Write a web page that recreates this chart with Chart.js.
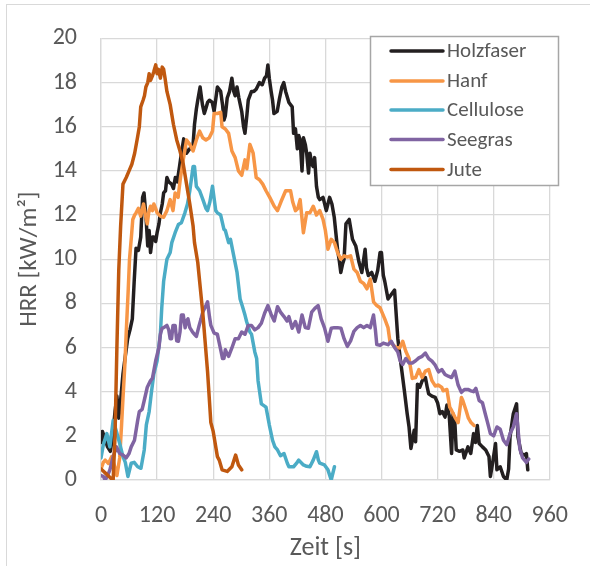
<!DOCTYPE html>
<html>
<head>
<meta charset="utf-8">
<script src="https://cdn.jsdelivr.net/npm/chart.js@4/dist/chart.umd.min.js"></script>
<style>
  html, body { margin: 0; padding: 0; background: #fff; }
  #wrap { position: relative; width: 590px; height: 566px; overflow: hidden; }
  #frame { position: absolute; left: 6px; top: 4px; width: 640px; height: 640px; border: 1px solid #d9d9d9; }
  canvas { position: absolute; left: 0; top: 0; }
</style>
</head>
<body>
<div id="wrap"><div id="frame"></div><canvas id="c" width="590" height="566"></canvas></div>
<script>
// ---- Data (time [s], HRR [kW/m²]) ----
const seriesLabels = ["Holzfaser", "Hanf", "Cellulose", "Seegras", "Jute"];
const seriesColors = ["#231F20", "#F79646", "#4BACC6", "#8064A2", "#C0580F"];
const xTicks = [0, 120, 240, 360, 480, 600, 720, 840, 960];
const yTicks = [0, 2, 4, 6, 8, 10, 12, 14, 16, 18, 20];

const holzfaser = [[0,1.7],[3,2.2],[8,1.9],[14,1.5],[20,1.3],[25,2.0],[30,3.1],[34,3.8],[38,2.8],[42,3.6],[47,4.8],[52,5.6],[57,6.4],[62,6.8],[67,7.3],[71,9.0],[75,10.5],[80,10.4],[85,11.0],[89,12.8],[92,13.0],[96,12.0],[100,10.6],[103,11.3],[106,10.3],[110,11.0],[113,11.0],[117,10.8],[120,11.2],[124,11.6],[127,12.1],[131,12.5],[134,13.0],[138,13.1],[141,13.7],[145,13.5],[151,13.4],[155,13.2],[159,13.7],[163,13.5],[168,14.2],[172,14.8],[177,15.45],[183,14.8],[190,15.0],[197,15.2],[200,16.1],[204,16.8],[207,17.2],[212,17.8],[217,17.0],[221,16.6],[224,16.8],[228,17.1],[232,17.2],[238,17.1],[242,16.7],[249,17.8],[256,17.6],[260,17.0],[263,16.3],[266,16.5],[270,17.3],[275,17.6],[280,18.2],[284,17.6],[287,17.4],[291,17.8],[295,17.3],[301,16.7],[305,16.0],[308,15.7],[312,16.5],[315,17.2],[322,17.6],[327,17.6],[332,17.7],[339,18.0],[345,17.9],[350,18.2],[354,18.3],[357,18.8],[360,18.2],[364,17.6],[367,17.2],[370,16.6],[377,16.7],[382,17.3],[387,17.8],[391,18.0],[395,17.6],[402,17.1],[409,16.9],[412,15.7],[416,15.9],[420,15.0],[423,15.6],[426,15.4],[430,14.0],[433,15.5],[437,15.2],[440,14.8],[444,13.9],[447,14.8],[451,14.3],[454,14.2],[457,14.6],[461,13.3],[465,12.8],[468,12.7],[475,12.8],[482,12.2],[489,12.8],[494,12.5],[499,11.9],[506,10.45],[510,9.9],[513,9.4],[517,9.8],[520,10.0],[524,11.6],[531,11.8],[538,10.9],[545,10.6],[552,9.86],[558,9.4],[565,10.45],[568,9.6],[572,9.26],[579,9.4],[586,9.0],[592,9.5],[597,10.3],[600,10.3],[604,9.26],[607,9.0],[614,8.2],[621,8.4],[628,8.6],[635,6.4],[642,5.2],[649,4.04],[655,3.0],[659,2.4],[663,1.43],[667,1.9],[670,2.25],[673,1.73],[677,4.34],[682,4.2],[687,4.49],[694,4.64],[698,4.19],[701,3.9],[708,3.8],[715,3.74],[720,3.5],[725,3.0],[730,3.1],[736,2.85],[740,3.4],[745,2.9],[750,1.2],[753,3.0],[757,2.6],[760,1.36],[767,1.3],[774,1.36],[777,1.0],[785,1.5],[791,1.2],[797,2.1],[801,1.7],[805,2.47],[809,1.65],[816,1.5],[823,1.36],[830,1.06],[833,0.16],[838,0.8],[844,1.65],[847,0.46],[854,0.6],[861,0.16],[868,0],[872,0.5],[875,1.95],[882,3.0],[889,3.45],[892,1.95],[899,1.2],[906,1.13],[910,1.2],[913,0.46]];

const hanf = [[0,0.5],[5,0.8],[9,0.9],[16,0.75],[23,1.06],[28,0.7],[34,0.2],[40,1.0],[44,2.5],[47,3.7],[51,5.2],[54,6.7],[58,8.5],[61,10.0],[65,11.0],[68,11.8],[72,12.0],[75,12.1],[80,12.3],[85,11.95],[91,12.5],[95,12.0],[99,11.6],[102,12.1],[106,12.4],[110,12.2],[113,12.5],[117,12.3],[120,12.1],[127,11.95],[134,11.9],[141,12.2],[148,12.7],[154,12.2],[158.6,13.0],[165,12.8],[170,13.7],[176,14.5],[183,15.4],[190,15.2],[197,14.9],[204,15.4],[211,15.8],[217.6,15.5],[224.5,15.4],[231.6,15.5],[238.5,15.8],[242,16.6],[249,16.6],[256,16.65],[259,16.0],[266,15.9],[273,15.7],[280,14.9],[287,14.6],[294,14.0],[301,13.8],[308,14.5],[312,14.1],[318.5,15.2],[325.5,14.8],[332,13.7],[339,13.6],[346,13.4],[353,13.1],[361,12.8],[370.6,12.4],[377.6,12.2],[385,12.6],[395,13.1],[405.5,13.1],[410,12.6],[416,12.2],[421,12.3],[426,12.7],[433,11.2],[440,12.1],[447,12.1],[454,12.4],[461,12.0],[468,12.2],[475,11.8],[480,11.3],[485.5,10.45],[492.5,10.9],[499.4,10.75],[506,10.3],[513,10.0],[520,10.15],[527,10.1],[534,10.15],[541,9.55],[548,9.4],[555,9.0],[562,8.9],[569,8.66],[576,9.1],[583,8.07],[590,7.9],[597,7.8],[607,7.3],[614,6.9],[618,6.3],[625,6.1],[632,6.0],[639,5.98],[645.5,6.28],[652,5.83],[659,5.5],[666,4.6],[673,4.64],[680,5.0],[687,4.64],[694,4.93],[701,5.0],[708,4.5],[715,4.26],[722,4.3],[729,4.19],[732,4.04],[740,4.1],[746,3.3],[750,3.15],[757,2.85],[764,2.6],[771,3.74],[774,3.6],[781,3.15],[786,2.8],[791.5,2.6],[798,2.47]];

const cellulose = [[0,1.0],[5,1.6],[12.5,2.1],[19,1.5],[26,2.7],[33,2.2],[40,1.65],[47,1.06],[52,0.8],[57.6,0.16],[64.6,0.76],[71,0.8],[78.5,0.6],[85.5,0.53],[92.5,1.36],[97,2.5],[103,3.1],[108,4.0],[113,4.8],[120,5.4],[127,6.6],[130,7.8],[134,9.0],[141,10.0],[148,10.3],[151.5,10.75],[158.6,11.2],[165.5,11.57],[172,11.65],[179.5,12.1],[185,12.5],[190,13.1],[197,14.2],[200,14.2],[204,13.3],[211,13.1],[218,12.7],[224.5,12.3],[228,12.2],[233,12.6],[238.5,13.3],[245.5,12.2],[249,12.1],[256,12.0],[263,11.35],[266,11.3],[273,10.75],[277,10.9],[284,10.15],[291,9.4],[297.6,8.2],[302,7.9],[308,7.47],[311.5,7.18],[318.5,6.7],[322,6.6],[329,5.8],[333,5.5],[336,4.5],[343,3.45],[353,3.3],[360,2.5],[367,1.8],[372,1.5],[377.6,1.36],[384,1.1],[391.5,1.2],[398.6,0.76],[402,0.6],[412,0.6],[418,0.75],[423,0.9],[433,0.68],[440,0.62],[447,0.6],[454,0.9],[461,1.28],[465,0.9],[468,0.76],[478,0.68],[485.5,0.46],[492.5,0],[499.4,0.6]];

const seegras = [[0,0.2],[5,0.16],[9,0],[14,0.2],[19,0.46],[26,1.06],[33,1.5],[40,1.2],[47,1.13],[54,1.0],[60,1.2],[64.6,1.5],[71.6,1.8],[78.5,2.7],[82,3.1],[88,3.2],[92.5,3.6],[99,4.2],[106,4.5],[110,4.6],[117,5.4],[124,6.0],[127,6.6],[130.6,6.87],[134,6.9],[141,7.0],[145,6.8],[148,6.4],[151,6.4],[154,7.0],[158.6,7.0],[162,6.3],[165.5,6.28],[169,6.7],[172,7.47],[176,7.47],[180,6.9],[183,7.2],[186,7.3],[190,6.9],[196,6.7],[200,6.6],[204,6.5],[210,7.0],[214,7.3],[217.6,7.6],[224.5,7.9],[228,8.07],[232,7.4],[235,7.0],[242,6.65],[249,6.6],[256,5.9],[260,5.5],[263,5.5],[266,5.9],[270,5.7],[273,5.6],[280,5.98],[287,6.4],[294,6.4],[301,6.7],[308,6.6],[315,7.0],[322,7.0],[329,6.8],[336,6.9],[343,7.1],[350,7.55],[357,7.9],[364,7.5],[370.6,7.2],[377.6,7.85],[384,7.6],[391.5,7.4],[398,7.2],[402,7.4],[409,6.87],[416,7.18],[423,6.7],[430,7.47],[437,6.9],[443.6,6.87],[450.7,7.6],[457.5,7.77],[464.5,7.9],[471,7.3],[478,6.9],[485.5,6.28],[492.5,6.87],[499,6.9],[506,6.9],[513.4,6.87],[520,6.4],[527,6.05],[534,6.3],[541,6.73],[548,6.9],[555,7.0],[562,6.9],[569,7.0],[576,6.9],[583,7.47],[587,6.8],[590,6.13],[597,6.1],[604,6.2],[614,6.13],[621,6.28],[628,6.0],[635,5.8],[640,5.4],[645.5,5.23],[652,5.5],[659,5.3],[666,5.3],[673,5.4],[680,5.53],[687,5.6],[694,5.75],[701,5.5],[708,5.38],[715,5.2],[722,4.9],[729,5.0],[736,4.78],[743,4.7],[750,4.64],[757,4.93],[764,4.3],[771,3.97],[777.6,4.1],[785,4.1],[791.5,4.04],[797,4.0],[802,4.15],[809,3.6],[816,3.5],[822,3.0],[827,2.6],[833,2.1],[840,2.0],[847,2.4],[854,2.3],[861,1.8],[868,1.6],[875,2.1],[882,2.4],[889,3.0],[896,1.4],[902,1.0],[910,0.8],[915,0.95]];

const jute = [[0,0.5],[10,0.3],[20,0.1],[26,0],[30,2],[34,6],[38,9.5],[42,11.5],[47,13.4],[54,13.7],[60,14.0],[66,14.3],[72,14.8],[78,15.5],[82,16.0],[85,16.9],[90,17.2],[93,17.4],[96,17.8],[100,18.0],[103,18.4],[106,18.1],[110,18.3],[113,18.5],[117,18.8],[120,18.4],[123,18.6],[127,18.2],[131,18.7],[134,18.6],[137,18.2],[141,17.6],[148,17.0],[155,16.1],[162,15.4],[169,14.9],[176,14.3],[183,13.4],[190,12.5],[197,11.5],[200,10.75],[207,9.85],[218,7.5],[228,4.9],[235,2.6],[240,2.2],[249,1.06],[253,0.9],[259,0.46],[270,0.39],[280,0.6],[288,1.13],[294,0.68],[301,0.46]];

const seriesData = [holzfaser, hanf, cellulose, seegras, jute];

// ---- Chart ----
const FONT = "Carlito, Lato, 'Open Sans', sans-serif";
const GREY_TEXT = "#595959";
const GRID = "#d9d9d9";

const datasets = seriesData.map((d, i) => ({
  label: seriesLabels[i],
  data: d.map(p => ({ x: p[0], y: p[1] })),
  borderColor: seriesColors[i],
  backgroundColor: seriesColors[i],
  borderWidth: 3.5,
  pointRadius: 0,
  tension: 0,
  fill: false,
  order: seriesData.length - 1 - i,
  borderJoinStyle: 'round',
  borderCapStyle: 'round'
}));

const insideLegend = {
  id: 'insideLegend',
  afterDraw(chart) {
    const ctx = chart.ctx;
    const bx = 370.5, by = 36.5, bw = 188, bh = 149;
    ctx.save();
    ctx.fillStyle = '#ffffff';
    ctx.fillRect(bx, by, bw, bh);
    ctx.strokeStyle = '#a6a6a6';
    ctx.lineWidth = 1.5;
    ctx.strokeRect(bx, by, bw, bh);
    const rowY = [51, 81, 110, 139.5, 169.5];
    ctx.font = "21px " + FONT;
    ctx.textBaseline = 'middle';
    ctx.textAlign = 'left';
    chart.data.datasets.forEach((ds, i) => {
      const y = rowY[i];
      ctx.strokeStyle = ds.borderColor;
      ctx.lineWidth = 3.5;
      ctx.lineCap = 'round';
      ctx.beginPath();
      ctx.moveTo(391, y);
      ctx.lineTo(443, y);
      ctx.stroke();
      ctx.fillStyle = GREY_TEXT;
      ctx.fillText(ds.label, 447, y + 1);
    });
    ctx.restore();
  }
};

new Chart(document.getElementById('c'), {
  type: 'line',
  data: { datasets },
  options: {
    responsive: false,
    animation: false,
    parsing: true,
    layout: { padding: { left: 0, top: 33, right: 29, bottom: 0 } },
    plugins: {
      legend: { display: false },
      tooltip: { enabled: false }
    },
    scales: {
      x: {
        type: 'linear',
        min: 0, max: 960,
        afterBuildTicks: (s) => { s.ticks = xTicks.map(v => ({ value: v })); },
        afterFit: (s) => { s.height = 86; },
        grid: { color: GRID, lineWidth: 1.3, drawTicks: false },
        border: { color: GRID, width: 1.3 },
        ticks: { color: GREY_TEXT, font: { family: FONT, size: 24 }, padding: 22, maxRotation: 0 },
        title: { display: true, text: 'Zeit [s]', color: GREY_TEXT, font: { family: FONT, size: 26 }, padding: { top: 0, bottom: 2 } }
      },
      y: {
        min: 0, max: 20,
        afterBuildTicks: (s) => { s.ticks = yTicks.map(v => ({ value: v })); },
        afterFit: (s) => { s.width = 101; },
        grid: { color: GRID, lineWidth: 1.3, drawTicks: false },
        border: { color: GRID, width: 1.3 },
        ticks: { color: GREY_TEXT, font: { family: FONT, size: 24 }, padding: 24 },
        title: { display: true, text: 'HRR [kW/m²]', color: GREY_TEXT, font: { family: FONT, size: 25 }, padding: { top: 15, bottom: 0 } }
      }
    }
  },
  plugins: [insideLegend]
});
</script>
</body>
</html>
